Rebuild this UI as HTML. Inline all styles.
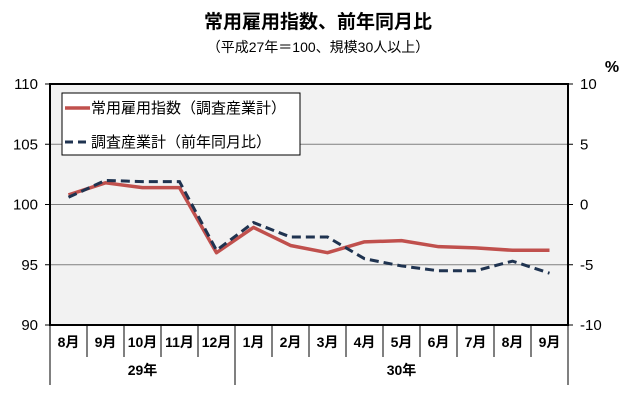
<!DOCTYPE html>
<html><head><meta charset="utf-8"><style>
body{margin:0;background:#fff;}
svg text{font-family:"Liberation Sans","Noto Sans CJK JP",sans-serif;}
</style></head><body>
<svg id="c" width="638" height="415" viewBox="0 0 638 415" xmlns="http://www.w3.org/2000/svg">
<text x="318" y="28" text-anchor="middle" font-size="19" font-weight="bold">常用雇用指数、前年同月比</text>
<text x="318" y="52" text-anchor="middle" font-size="14">（平成27年＝100、規模30人以上）</text>
<text x="612" y="72" text-anchor="middle" font-size="16" font-weight="bold">%</text>
<rect x="50" y="84" width="518" height="241" fill="#f2f2f2"/>
<g id="grid"></g>
<g id="lines"></g>
<rect x="50" y="84" width="518" height="241" fill="none" stroke="#000" stroke-width="2"/>
<g id="axes"></g>
<g>
<rect x="62" y="93" width="238" height="62" fill="#fff" stroke="#000" stroke-width="1"/>
<line x1="65" y1="108" x2="90" y2="108" stroke="#c0504d" stroke-width="3.5"/>
<text x="91" y="113" font-size="15">常用雇用指数（調査産業計）</text>
<line x1="65" y1="142" x2="90" y2="142" stroke="#1f3350" stroke-width="3" stroke-dasharray="8,5"/>
<text x="91" y="147" font-size="15">調査産業計（前年同月比）</text>
</g>
</svg>
<script>
const categories=["8月","9月","10月","11月","12月","1月","2月","3月","4月","5月","6月","7月","8月","9月"];
const indexValues=[100.8,101.8,101.4,101.4,96.0,98.1,96.6,96.0,96.9,97.0,96.5,96.4,96.2,96.2];
const yoyValues=[0.6,2.0,1.9,1.9,-3.8,-1.5,-2.7,-2.7,-4.5,-5.1,-5.5,-5.5,-4.7,-5.7];
const leftTicks=[90,95,100,105,110];
const rightTicks=[-10,-5,0,5,10];
const years=[{label:"29年",start:0,end:5},{label:"30年",start:5,end:14}];
const NS="http://www.w3.org/2000/svg";
const X0=50,X1=568,Y0=84,Y1=325;
const cw=(X1-X0)/categories.length;
const xs=i=>X0+cw*(i+0.5);
const yL=v=>Y1-(v-90)/20*(Y1-Y0);
const yR=v=>Y1-(v+10)/20*(Y1-Y0);
function mk(tag,attrs,parent,txt){const e=document.createElementNS(NS,tag);for(const k in attrs)e.setAttribute(k,attrs[k]);if(txt!==undefined)e.textContent=txt;parent.appendChild(e);return e;}
const grid=document.getElementById('grid'),axes=document.getElementById('axes'),lines=document.getElementById('lines');
leftTicks.forEach((t,i)=>{
  const y=yL(t);
  if(t>90&&t<110){const g=mk('line',{x1:X0,x2:X1,y1:y,y2:y,stroke:'#808080','stroke-width':1},grid);
  
  }
  mk('line',{x1:X0-5,x2:X0,y1:y,y2:y,stroke:'#000'},axes);
  const tx=mk('text',{x:38,y:y+5,'text-anchor':'end','font-size':15},axes,String(t));
  
  
});
rightTicks.forEach(t=>{
  const y=yR(t);
  mk('line',{x1:X1,x2:X1+5,y1:y,y2:y,stroke:'#000'},axes);
  const tx=mk('text',{x:580,y:y+5,'font-size':15},axes,String(t));
  
  
});
categories.forEach((c,i)=>{
  mk('line',{x1:X0+cw*(i+1),x2:X0+cw*(i+1),y1:Y1,y2:357,stroke:'#000'},axes);
  const tx=mk('text',{x:xs(i),y:347,'text-anchor':'middle','font-size':14,'font-weight':'bold'},axes,c);
  
  
});
mk('line',{x1:X0,x2:X0,y1:Y1,y2:385,stroke:'#000'},axes);
years.forEach(yr=>{
  mk('line',{x1:X0+cw*yr.end,x2:X0+cw*yr.end,y1:Y1,y2:385,stroke:'#000'},axes);
  const tx=mk('text',{x:X0+cw*(yr.start+yr.end)/2,y:375,'text-anchor':'middle','font-size':14,'font-weight':'bold'},axes,yr.label);
  
  
});
const p1=mk('polyline',{points:indexValues.map((v,i)=>xs(i)+','+yL(v)).join(' '),fill:'none',stroke:'#c0504d','stroke-width':3.5,'stroke-linejoin':'round'},lines);


const p2=mk('polyline',{points:yoyValues.map((v,i)=>xs(i)+','+yR(v)).join(' '),fill:'none',stroke:'#1f3350','stroke-width':3,'stroke-dasharray':'9,5'},lines);


</script>
</body></html>
